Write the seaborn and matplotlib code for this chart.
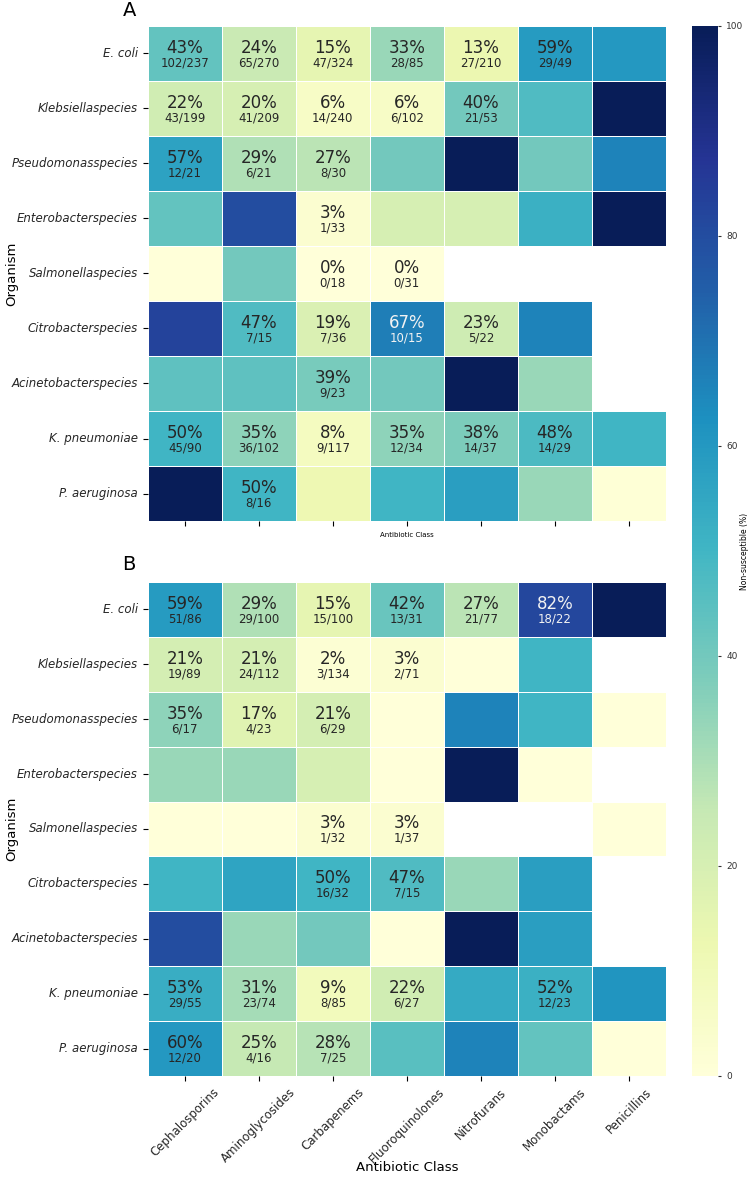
import numpy as np
import pandas as pd
import matplotlib
matplotlib.use("Agg")
import matplotlib.pyplot as plt
import seaborn as sns

nan = np.nan

classes = ["Cephalosporins", "Aminoglycosides", "Carbapenems", "Fluoroquinolones",
           "Nitrofurans", "Monobactams", "Penicillins"]
organisms = ["E. coli", "Klebsiellaspecies", "Pseudomonasspecies", "Enterobacterspecies",
             "Salmonellaspecies", "Citrobacterspecies", "Acinetobacterspecies",
             "K. pneumoniae", "P. aeruginosa"]

# panel A - % non-susceptible (colour)
pct_a = [
    [43, 24, 15, 33, 13, 59, 60],
    [22, 20, 6, 6, 40, 47, 100],
    [57, 29, 27, 40, 100, 40, 66],
    [43, 80, 3, 20, 20, 52, 100],
    [0, 40, 0, 0, nan, nan, nan],
    [83, 47, 19, 67, 23, 66, nan],
    [44, 44, 39, 40, 100, 33, nan],
    [50, 35, 8, 35, 38, 48, 50],
    [100, 50, 12, 50, 58, 33, 1],
]
# n resistant / n tested, only where printed in the cell
num_a = [
    [102, 65, 47, 28, 27, 29, None],
    [43, 41, 14, 6, 21, None, None],
    [12, 6, 8, None, None, None, None],
    [None, None, 1, None, None, None, None],
    [None, None, 0, 0, None, None, None],
    [None, 7, 7, 10, 5, None, None],
    [None, None, 9, None, None, None, None],
    [45, 36, 9, 12, 14, 14, None],
    [None, 8, None, None, None, None, None],
]
den_a = [
    [237, 270, 324, 85, 210, 49, None],
    [199, 209, 240, 102, 53, None, None],
    [21, 21, 30, None, None, None, None],
    [None, None, 33, None, None, None, None],
    [None, None, 18, 31, None, None, None],
    [None, 15, 36, 15, 22, None, None],
    [None, None, 23, None, None, None, None],
    [90, 102, 117, 34, 37, 29, None],
    [None, 16, None, None, None, None, None],
]

# panel B
pct_b = [
    [59, 29, 15, 42, 27, 82, 100],
    [21, 21, 2, 3, 0, 50, nan],
    [35, 17, 21, 0, 66, 50, 0],
    [33, 33, 20, 0, 100, 0, nan],
    [0, 0, 3, 3, nan, nan, 0],
    [50, 56, 50, 47, 33, 58, nan],
    [80, 33, 40, 0, 100, 58, nan],
    [53, 31, 9, 22, 54, 52, 61],
    [60, 25, 28, 45, 66, 43, 0],
]
num_b = [
    [51, 29, 15, 13, 21, 18, None],
    [19, 24, 3, 2, None, None, None],
    [6, 4, 6, None, None, None, None],
    [None, None, None, None, None, None, None],
    [None, None, 1, 1, None, None, None],
    [None, None, 16, 7, None, None, None],
    [None, None, None, None, None, None, None],
    [29, 23, 8, 6, None, 12, None],
    [12, 4, 7, None, None, None, None],
]
den_b = [
    [86, 100, 100, 31, 77, 22, None],
    [89, 112, 134, 71, None, None, None],
    [17, 23, 29, None, None, None, None],
    [None, None, None, None, None, None, None],
    [None, None, 32, 37, None, None, None],
    [None, None, 32, 15, None, None, None],
    [None, None, None, None, None, None, None],
    [55, 74, 85, 27, None, 23, None],
    [20, 16, 25, None, None, None, None],
]

fig = plt.figure(figsize=(7.5, 11.78), dpi=100)
ax_a = fig.add_axes([0.197, 0.5577, 0.691, 0.4203])
ax_b = fig.add_axes([0.197, 0.0866, 0.691, 0.4194])
cax = fig.add_axes([0.9227, 0.0866, 0.0347, 0.8914])


def draw_panel(ax, pct, num, den, show_xticks, **kw):
    df = pd.DataFrame(pct, index=organisms, columns=classes)
    sns.heatmap(df, ax=ax, cmap="YlGnBu", vmin=0, vmax=100,
                linewidths=0.6, linecolor="white", **kw)
    # percent on top, counts below
    for i in range(len(organisms)):
        for j in range(len(classes)):
            if num[i][j] is None:
                continue
            v = pct[i][j]
            c = "#f2f2f2" if v > 62 else "#262626"
            ax.text(j + 0.5, i + 0.40, f"{v:.0f}%", ha="center", va="center",
                    fontsize=12, color=c)
            ax.text(j + 0.5, i + 0.67, f"{num[i][j]}/{den[i][j]}", ha="center",
                    va="center", fontsize=8.5, color=c)
    ax.set_yticklabels(organisms, rotation=0, fontsize=8.5, style="italic",
                       color="#262626")
    ax.set_ylabel("Organism", fontsize=9.5)
    ax.yaxis.set_label_coords(-0.25, 0.5)
    if show_xticks:
        ax.set_xticklabels(classes, rotation=45, ha="center", fontsize=8.5,
                           color="#262626")
        ax.set_xlabel("Antibiotic Class", fontsize=9.5)
        ax.xaxis.set_label_coords(0.5, -0.172)
    else:
        ax.set_xticklabels([])
        ax.set_xlabel("Antibiotic Class", fontsize=5, labelpad=1)


draw_panel(ax_a, pct_a, num_a, den_a, False, cbar_ax=cax)
draw_panel(ax_b, pct_b, num_b, den_b, True, cbar=False)

cax.set_yticks([0, 20, 40, 60, 80, 100])
cax.tick_params(labelsize=6.5, length=2.5, colors="#333333")
cax.set_ylabel("Non-susceptible (%)", fontsize=5.5)
cax.yaxis.set_label_coords(1.86, 0.5)

fig.text(0.173, 0.991, "A", fontsize=14, ha="center", va="center")
fig.text(0.172, 0.5204, "B", fontsize=14, ha="center", va="center")

fig.savefig("out.png", dpi=100)
